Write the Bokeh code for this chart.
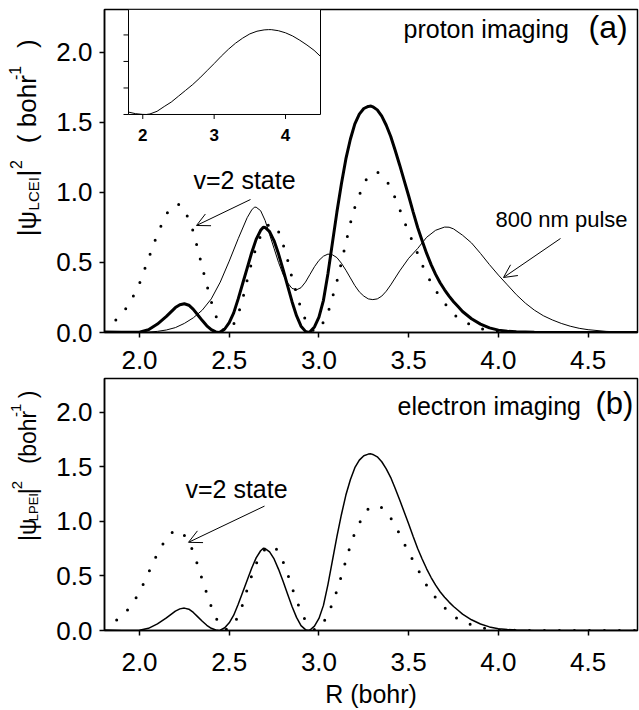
import numpy as np
from bokeh.plotting import figure
from bokeh.models import Range1d, FixedTicker, PrintfTickFormatter, Label, Arrow, OpenHead
from bokeh.layouts import column, row
from bokeh.embed import file_html
from bokeh.resources import INLINE
from bokeh.core.properties import value

FONT = "Liberation Sans"

# ---------------- data ----------------
X_TICKS = [2.0, 2.5, 3.0, 3.5, 4.0, 4.5]
Y_TICKS = [0.0, 0.5, 1.0, 1.5, 2.0]

# |psi_LCEI|^2 (proton imaging, thick) -- also used for |psi_LPEI|^2 (electron imaging)
r_lcei = [1.80, 1.90, 2.00, 2.05, 2.10, 2.15, 2.20, 2.225, 2.25, 2.275, 2.30, 2.325, 2.35, 2.375,
          2.40, 2.425, 2.44, 2.45, 2.475, 2.50, 2.525, 2.55, 2.575, 2.60, 2.625, 2.65, 2.675, 2.69,
          2.70, 2.725, 2.75, 2.775, 2.80, 2.825, 2.85, 2.875, 2.90, 2.925, 2.94, 2.95, 2.975, 3.00,
          3.025, 3.05, 3.075, 3.10, 3.125, 3.15, 3.175, 3.20, 3.225, 3.25, 3.275, 3.29, 3.30, 3.325,
          3.35, 3.375, 3.40, 3.425, 3.45, 3.475, 3.50, 3.525, 3.55, 3.575, 3.60, 3.625, 3.65, 3.675,
          3.70, 3.725, 3.75, 3.775, 3.80, 3.85, 3.90, 3.95, 4.00, 4.05, 4.10, 4.20, 4.30, 4.80]
lcei = [0.004, 0.001, 0.002, 0.02, 0.06, 0.115, 0.178, 0.198, 0.205, 0.195, 0.165, 0.125, 0.085, 0.048,
        0.02, 0.004, 0.0, 0.003, 0.025, 0.07, 0.14, 0.24, 0.35, 0.46, 0.57, 0.665, 0.73, 0.752,
        0.75, 0.72, 0.655, 0.56, 0.45, 0.335, 0.22, 0.12, 0.045, 0.008, 0.0, 0.005, 0.04, 0.11,
        0.23, 0.42, 0.64, 0.86, 1.06, 1.24, 1.38, 1.49, 1.56, 1.60, 1.615, 1.617, 1.612, 1.59,
        1.545, 1.48, 1.40, 1.30, 1.195, 1.085, 0.975, 0.86, 0.75, 0.655, 0.565, 0.485, 0.415, 0.355,
        0.305, 0.26, 0.22, 0.185, 0.15, 0.098, 0.06, 0.033, 0.017, 0.009, 0.005, 0.001, 0.0, 0.0]
lpei = lcei

# 800 nm pulse (thin)
r_pulse = [1.80, 2.00, 2.05, 2.10, 2.15, 2.20, 2.25, 2.30, 2.35, 2.40, 2.45, 2.50, 2.55, 2.60, 2.625,
           2.64, 2.65, 2.675, 2.70, 2.725, 2.75, 2.775, 2.80, 2.825, 2.85, 2.875, 2.90, 2.925, 2.95,
           2.975, 3.00, 3.025, 3.05, 3.075, 3.10, 3.125, 3.15, 3.175, 3.20, 3.225, 3.25, 3.275, 3.30,
           3.325, 3.35, 3.375, 3.40, 3.45, 3.50, 3.55, 3.60, 3.65, 3.70, 3.725, 3.75, 3.80, 3.85,
           3.90, 3.95, 4.00, 4.05, 4.10, 4.15, 4.20, 4.25, 4.30, 4.35, 4.40, 4.45, 4.50, 4.60, 4.70, 4.80]
pulse = [0.0, 0.0, 0.003, 0.008, 0.018, 0.035, 0.065, 0.105, 0.16, 0.24, 0.36, 0.51, 0.67, 0.82, 0.875,
         0.895, 0.895, 0.87, 0.80, 0.70, 0.60, 0.50, 0.415, 0.355, 0.315, 0.305, 0.32, 0.36, 0.415,
         0.47, 0.515, 0.545, 0.56, 0.555, 0.535, 0.495, 0.445, 0.39, 0.335, 0.29, 0.26, 0.24, 0.235,
         0.24, 0.26, 0.295, 0.34, 0.44, 0.53, 0.60, 0.68, 0.73, 0.753, 0.752, 0.74, 0.695, 0.64,
         0.565, 0.485, 0.41, 0.34, 0.27, 0.21, 0.16, 0.12, 0.09, 0.065, 0.045, 0.03, 0.02, 0.008, 0.003, 0.001]

# v=2 state (dotted)
r_v2 = [1.80, 1.85, 1.90, 1.95, 2.00, 2.05, 2.10, 2.15, 2.175, 2.20, 2.225, 2.25, 2.275, 2.30, 2.325,
        2.35, 2.375, 2.40, 2.425, 2.45, 2.475, 2.50, 2.525, 2.55, 2.575, 2.60, 2.625, 2.65, 2.675,
        2.70, 2.725, 2.75, 2.775, 2.80, 2.825, 2.85, 2.875, 2.90, 2.925, 2.95, 2.975, 3.00, 3.025,
        3.05, 3.075, 3.10, 3.125, 3.15, 3.175, 3.20, 3.225, 3.25, 3.275, 3.30, 3.325, 3.35, 3.375,
        3.40, 3.425, 3.45, 3.475, 3.50, 3.525, 3.55, 3.575, 3.60, 3.65, 3.70, 3.75, 3.80, 3.85,
        3.90, 3.95, 4.00, 4.10, 4.20, 4.80]
v2 = [0.028, 0.07, 0.125, 0.22, 0.35, 0.527, 0.705, 0.845, 0.89, 0.915, 0.915, 0.87, 0.81, 0.72, 0.595,
      0.465, 0.34, 0.22, 0.12, 0.045, 0.008, 0.015, 0.06, 0.13, 0.24, 0.375, 0.50, 0.61, 0.69,
      0.745, 0.775, 0.77, 0.72, 0.63, 0.52, 0.39, 0.28, 0.17, 0.09, 0.035, 0.008, 0.015, 0.075,
      0.14, 0.25, 0.365, 0.50, 0.64, 0.78, 0.895, 0.98, 1.065, 1.115, 1.14, 1.145, 1.125, 1.09,
      1.03, 0.96, 0.88, 0.795, 0.715, 0.638, 0.565, 0.485, 0.415, 0.30, 0.21, 0.13, 0.085, 0.053,
      0.028, 0.013, 0.005, 0.001, 0.0, 0.0]

# inset curve (arbitrary units)
r_inset = [1.80, 1.90, 2.00, 2.05, 2.10, 2.20, 2.30, 2.40, 2.50, 2.60, 2.70, 2.80, 2.90, 3.00, 3.10,
           3.20, 3.30, 3.40, 3.50, 3.60, 3.70, 3.76, 3.80, 3.90, 4.00, 4.10, 4.20, 4.30, 4.40, 4.49]
inset = [0.09, 0.03, 0.003, 0.0, 0.02, 0.12, 0.30, 0.47, 0.69, 0.91, 1.13, 1.38, 1.65, 1.92, 2.20,
         2.46, 2.69, 2.88, 3.04, 3.14, 3.19, 3.20, 3.20, 3.16, 3.08, 2.96, 2.80, 2.62, 2.42, 2.19]
INSET_X_TICKS = [2, 3, 4]
INSET_Y_TICKS = [0, 1, 2, 3]

# ---------------- layout helpers ----------------
X0, X1 = 1.805, 4.775
STRIP_W = 52
PX_PER_X = 533 / (X1 - X0)


def x_at(px):  # page px -> data x
    return X0 + (px - 104) / PX_PER_X


def make_fig(height, top, bottom, x_standoff):
    p = figure(width=639 - STRIP_W, height=height, x_range=Range1d(X0, X1), y_range=Range1d(0, 2.307),
               output_backend="svg", toolbar_location=None,
               min_border_left=104 - STRIP_W, min_border_right=2,
               min_border_top=top, min_border_bottom=bottom)
    p.grid.visible = False
    p.outline_line_color = "black"
    p.outline_line_width = 1.5
    p.background_fill_color = "white"
    p.border_fill_color = "white"
    p.xaxis.ticker = FixedTicker(ticks=X_TICKS)
    p.yaxis.ticker = FixedTicker(ticks=Y_TICKS)
    for ax in (p.xaxis[0], p.yaxis[0]):
        ax.formatter = PrintfTickFormatter(format="%.1f")
        ax.major_label_text_font = FONT
        ax.major_label_text_font_size = "26px"
        ax.major_label_text_color = "black"
        ax.major_tick_out = 5
        ax.major_tick_in = 0
        ax.minor_tick_out = 0
        ax.minor_tick_in = 0
        ax.axis_line_width = 1.5
        ax.major_tick_line_width = 1.5
        ax.axis_line_color = "black"
        ax.major_tick_line_color = "black"
    p.xaxis.major_label_standoff = x_standoff
    p.yaxis.major_label_standoff = 7
    return p


def make_strip(height, page_top, pieces):
    # pieces: (text, centre_py, font_px, centre_px) -- rotated label fragments
    s = figure(width=STRIP_W, height=height, x_range=Range1d(0, STRIP_W),
               y_range=Range1d(page_top + height, page_top),
               output_backend="svg", toolbar_location=None,
               x_axis_type=None, y_axis_type=None,
               min_border_left=0, min_border_right=0, min_border_top=0, min_border_bottom=0)
    s.grid.visible = False
    s.outline_line_color = None
    s.background_fill_color = "white"
    s.border_fill_color = "white"
    for text, cy, size, cx in pieces:
        s.text(x=[cx], y=[cy], text=[text], angle=np.pi / 2,
               text_font=value(FONT), text_font_size=value(f"{size}px"),
               text_align="center", text_baseline="middle", text_color="black")
    return s


def lab(p, x, y, text, size, **kw):
    p.add_layout(Label(x=x, y=y, text=text, text_font=FONT, text_font_size=f"{size}px",
                       text_color="black", **kw))


def arrow(p, xs, ys, xe, ye):
    p.add_layout(Arrow(end=OpenHead(size=13, line_width=1, line_color="black"),
                       x_start=xs, y_start=ys, x_end=xe, y_end=ye,
                       line_width=1, line_color="black"))


# ---------------- panel (a) ----------------
HA = 377
pa = make_fig(HA, 9, HA - 332, 13)


def ya(py):
    return (332 - py) / 140.0


pa.line(r_v2, v2, line_width=3, line_color="black", line_dash="0 15", line_cap="round")
pa.line(r_pulse, pulse, line_width=1, line_color="black")
pa.line(r_lcei, lcei, line_width=3, line_color="black")

# inset
sub = pa.subplot(x_source=Range1d(1.8, 4.49), y_source=Range1d(0, 3.96),
                 x_target=Range1d(x_at(128), x_at(320)), y_target=Range1d(ya(114), ya(9)))
sub.quad(left=[1.8], right=[4.49], bottom=[0], top=[3.96], fill_color="white",
         line_color="black", line_width=1)
sub.line(r_inset, inset, line_width=1, line_color="black")
sub.segment(x0=INSET_X_TICKS, y0=[0] * 3, x1=INSET_X_TICKS, y1=[-0.17] * 3,
            line_color="black", line_width=1)
sub.segment(x0=[1.8] * 4, y0=INSET_Y_TICKS, x1=[1.73] * 4, y1=INSET_Y_TICKS,
            line_color="black", line_width=1)
sub.text(x=INSET_X_TICKS, y=[-0.55] * 3, text=[str(t) for t in INSET_X_TICKS],
         text_font=value(FONT), text_font_size=value("17px"), text_font_style="bold",
         text_align="center", text_baseline="top", text_color="black")

lab(pa, x_at(403), ya(43), "proton imaging", 25)
lab(pa, x_at(588), ya(45), "(a)", 32)
lab(pa, x_at(244), ya(194), "v=2 state", 25, text_align="center")
arrow(pa, x_at(250), ya(199), x_at(196), ya(225))
lab(pa, x_at(561), ya(232), "800 nm pulse", 22, text_align="center")
arrow(pa, x_at(560), ya(238), x_at(503), ya(277))

sa = make_strip(HA, 0, [("|\u03c8", 250, 26, 26), ("LCEI", 215, 15, 33), ("|", 191, 26, 26),
                        ("2", 181, 16, 15), ("(", 151, 26, 26), ("bohr", 107, 26, 26),
                        ("-1", 74, 16, 14), (")", 40, 26, 26)])

# ---------------- panel (b) ----------------
HB = 710 - HA
pb = make_fig(HB, 378 - HA, HB - (635 - HA), 17)


def yb(py):
    return (635 - py) / 111.5


pb.line(r_v2, v2, line_width=3, line_color="black", line_dash="0 15", line_cap="round")
pb.line(r_lcei, lpei, line_width=1.5, line_color="black")

pb.xaxis.axis_label = "R (bohr)"
pb.xaxis.axis_label_text_font = FONT
pb.xaxis.axis_label_text_font_size = "25px"
pb.xaxis.axis_label_text_font_style = "normal"
pb.xaxis.axis_label_text_color = "black"
pb.xaxis.axis_label_standoff = 6

lab(pb, x_at(397), yb(420), "electron imaging", 25)
lab(pb, x_at(595), yb(421), "(b)", 31)
lab(pb, x_at(236), yb(505), "v=2 state", 25, text_align="center")
arrow(pb, x_at(264), yb(508), x_at(188), yb(545))

sb = make_strip(HB, HA, [("|\u03c8", 577, 23, 27), ("LPEI", 547, 13, 33), ("|", 526, 23, 27),
                         ("2", 518, 15, 16), ("(", 485, 23, 27), ("bohr", 450, 23, 27),
                         ("-1", 419, 15, 15), (")", 398, 23, 27)])

layout = column(row(sa, pa), row(sb, pb))
open("out.html", "w").write(file_html(layout, INLINE))
